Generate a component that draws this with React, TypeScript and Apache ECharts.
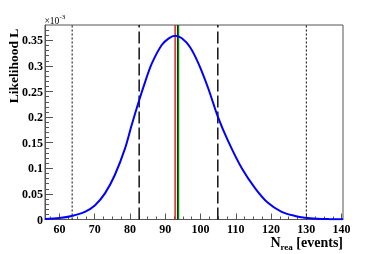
import React, { useEffect, useRef } from "react";
import * as echarts from "echarts";

// Likelihood curve (values in units of 1e-3)
const curveN = [55.9, 60, 63.5, 67.2, 70.1, 72.9, 75.7, 78.6, 80.5, 82.6, 84.3, 86.2, 89.0, 91.0, 92.8, 94.7, 97.0, 99.4, 102.2, 104.9, 107.9, 111.7, 115.5, 119.2, 123.0, 126.8, 129.6, 133.0, 136.5, 140.4];
const curveL = [0.001, 0.003, 0.007, 0.015, 0.028, 0.051, 0.087, 0.139, 0.185, 0.233, 0.269, 0.305, 0.341, 0.354, 0.359, 0.354, 0.337, 0.305, 0.256, 0.201, 0.152, 0.100, 0.061, 0.032, 0.015, 0.007, 0.0035, 0.0015, 0.0007, 0.0003];

const xMajorTicks = [60, 70, 80, 90, 100, 110, 120, 130, 140];
const xMinorTicks = [57.5, 62.5, 65, 67.5, 72.5, 75, 77.5, 82.5, 85, 87.5, 92.5, 95, 97.5, 102.5, 105, 107.5, 112.5, 115, 117.5, 122.5, 125, 127.5, 132.5, 135, 137.5];
const yMajorTicks = [0, 0.05, 0.1, 0.15, 0.2, 0.25, 0.3, 0.35];
const yMinorTicks = [0.01, 0.02, 0.03, 0.04, 0.06, 0.07, 0.08, 0.09, 0.11, 0.12, 0.13, 0.14, 0.16, 0.17, 0.18, 0.19, 0.21, 0.22, 0.23, 0.24, 0.26, 0.27, 0.28, 0.29, 0.31, 0.32, 0.33, 0.34, 0.36, 0.37];

const dottedLines = [63.6, 130.0];
const dashedLines = [82.6, 104.9];
const redLine = 92.8;
const blackLine = 93.45;
const greenLine = 93.75;

const X_MIN = 55.9;
const X_MAX = 140.4;
const Y_MAX = 0.38;

const FONT = "Liberation Serif";

function vline(x: number, color: string, width: number, type: any) {
  return {
    type: "line",
    xAxisIndex: 0,
    yAxisIndex: 0,
    data: [[x, 0], [x, Y_MAX]],
    symbol: "none",
    silent: true,
    lineStyle: { color, width, type },
    z: 3,
  };
}

export default function App() {
  const ref = useRef<HTMLDivElement>(null);
  useEffect(() => {
    if (!ref.current) return;
    const chart = echarts.init(ref.current, undefined, { renderer: "svg" });
    const grid = { left: 45, right: 39, top: 25, bottom: 34.5 };
    const axisColor = "#555";
    const option: any = {
      animation: false,
      grid: [
        { ...grid, show: true, borderColor: axisColor, borderWidth: 1, backgroundColor: "transparent" },
        { ...grid, show: false },
      ],
      xAxis: [
        {
          type: "value",
          gridIndex: 0,
          min: X_MIN,
          max: X_MAX,
          position: "bottom",
          splitLine: { show: false },
          axisLine: { show: true, onZero: false, lineStyle: { color: axisColor, width: 1 } },
          axisTick: { show: true, inside: true, length: 6, customValues: xMajorTicks, lineStyle: { color: axisColor } },
          axisLabel: {
            customValues: xMajorTicks,
            margin: 3,
            color: "#000",
            fontFamily: FONT,
            fontWeight: "bold",
            fontSize: 12,
          },
        },
        {
          type: "value",
          gridIndex: 1,
          min: X_MIN,
          max: X_MAX,
          position: "bottom",
          splitLine: { show: false },
          axisLine: { show: false },
          axisTick: { show: true, inside: true, length: 3, customValues: xMinorTicks, lineStyle: { color: axisColor } },
          axisLabel: { show: false },
        },
      ],
      yAxis: [
        {
          type: "value",
          gridIndex: 0,
          min: 0,
          max: Y_MAX,
          position: "left",
          splitLine: { show: false },
          axisLine: { show: true, onZero: false, lineStyle: { color: axisColor, width: 1 } },
          axisTick: { show: true, inside: true, length: 8, customValues: yMajorTicks, lineStyle: { color: axisColor } },
          axisLabel: {
            customValues: yMajorTicks,
            margin: 2,
            color: "#000",
            fontFamily: FONT,
            fontWeight: "bold",
            fontSize: 12,
          },
        },
        {
          type: "value",
          gridIndex: 1,
          min: 0,
          max: Y_MAX,
          position: "left",
          splitLine: { show: false },
          axisLine: { show: false },
          axisTick: { show: true, inside: true, length: 4, customValues: yMinorTicks, lineStyle: { color: axisColor } },
          axisLabel: { show: false },
        },
      ],
      series: [
        ...dottedLines.map((x) => vline(x, "#000", 1, [2, 2])),
        ...dashedLines.map((x) => vline(x, "#111", 1.5, [12, 4])),
        vline(redLine, "#d42a2a", 1.5, "solid"),
        vline(blackLine, "#000", 1, "solid"),
        vline(greenLine, "#008a00", 1.5, "solid"),
        {
          type: "line",
          xAxisIndex: 0,
          yAxisIndex: 0,
          data: curveN.map((n, i) => [n, curveL[i]]),
          symbol: "none",
          smooth: 0.3,
          silent: true,
          lineStyle: { color: "#0000ff", width: 2 },
          z: 4,
        },
      ],
      graphic: [
        {
          type: "text",
          x: 13,
          y: 66,
          rotation: Math.PI / 2,
          style: {
            text: "Likelihood L",
            fontFamily: FONT,
            fontWeight: "bold",
            fontSize: 13.5,
            fill: "#000",
            align: "center",
            verticalAlign: "middle",
          },
        },
        {
          type: "text",
          x: 44.5,
          y: 20.5,
          style: {
            text: "×10",
            fontFamily: FONT,
            fontSize: 9.5,
            fill: "#000",
            align: "left",
            verticalAlign: "middle",
          },
        },
        {
          type: "text",
          x: 59.5,
          y: 16.5,
          style: {
            text: "-3",
            fontFamily: FONT,
            fontSize: 7,
            fill: "#000",
            align: "left",
            verticalAlign: "middle",
          },
        },
        {
          type: "text",
          x: 343,
          y: 243,
          style: {
            text: "{a|N}{b|rea}{a| [events]}",
            fill: "#000",
            align: "right",
            verticalAlign: "middle",
            rich: {
              a: { fontFamily: FONT, fontWeight: "bold", fontSize: 14, fill: "#000", lineHeight: 16, verticalAlign: "top" },
              b: { fontFamily: FONT, fontWeight: "bold", fontSize: 9, fill: "#000", lineHeight: 10, verticalAlign: "bottom", padding: [6, 0, 0, 0] },
            },
          },
        },
      ],
    };
    chart.setOption(option);
    return () => chart.dispose();
  }, []);
  return <div ref={ref} style={{ position: "fixed", left: 0, top: 0, width: 382, height: 254 }} />;
}
